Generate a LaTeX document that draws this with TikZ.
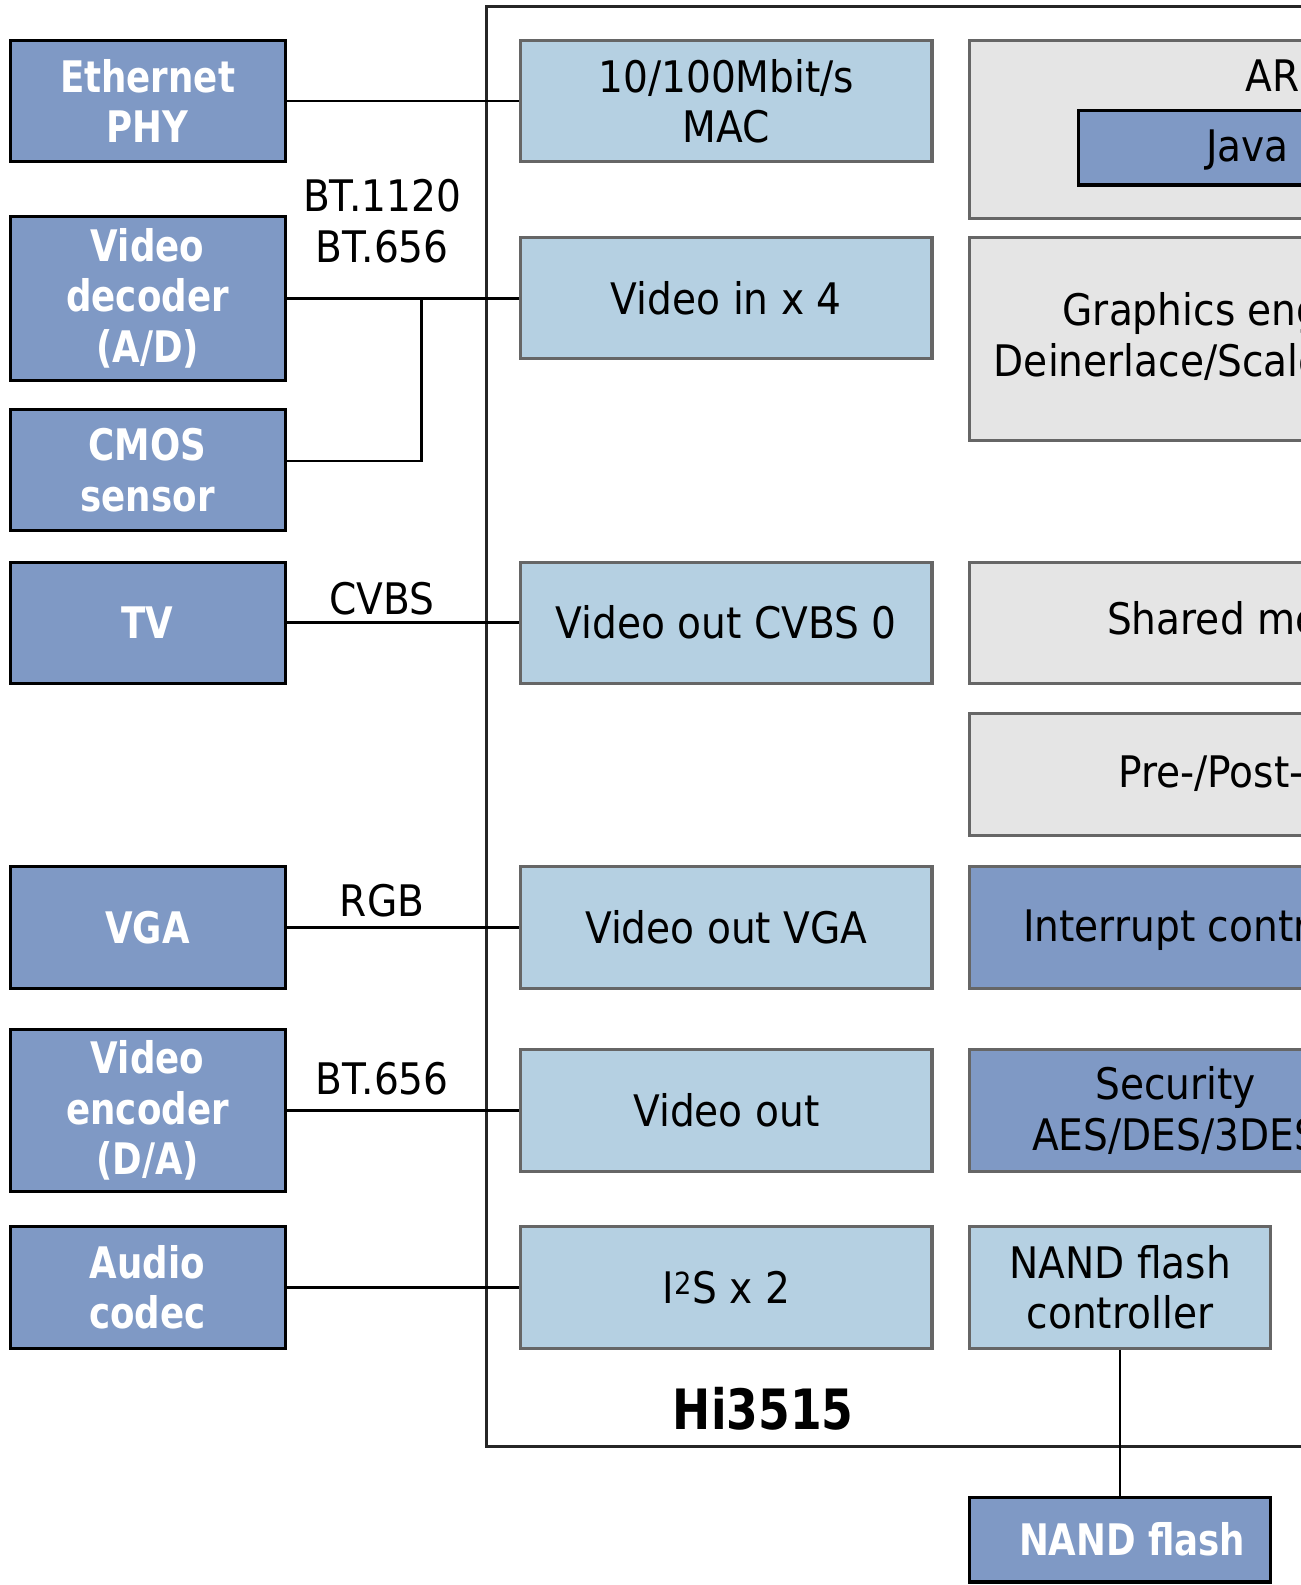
\documentclass[tikz,border=0pt]{standalone}
\usepackage{fontspec}
\newfontfamily\rgfont{DejaVu Sans}[FakeStretch=0.9]
\newfontfamily\bdfont{DejaVu Sans}[FakeStretch=0.82]
\definecolor{dkblue}{RGB}{127,153,197}
\definecolor{ltblue}{RGB}{181,208,226}
\definecolor{ltgray}{RGB}{229,229,229}
\definecolor{bordergray}{RGB}{102,102,102}
\begin{document}
\begin{tikzpicture}[x=1pt,y=-1pt,
  extbox/.style={draw=black, fill=dkblue, line width=3pt, text=white, inner sep=0pt,
    minimum width=272pt, align=center, font=\bdfont\bfseries\fontsize{43}{50}\selectfont},
  chipbox/.style={draw=bordergray, fill=ltblue, line width=3pt, inner sep=0pt,
    minimum width=407pt, align=center, font=\rgfont\fontsize{43}{50}\selectfont},
  graybox/.style={draw=bordergray, fill=ltgray, line width=3pt, inner sep=0pt},
  bluebox/.style={draw=bordergray, fill=dkblue, line width=3pt, inner sep=0pt},
  lbl/.style={inner sep=0pt, align=center, font=\rgfont\fontsize{43}{50}\selectfont},
  rtext/.style={inner sep=0pt, anchor=base west, font=\rgfont\fontsize{43}{50}\selectfont},
  wire/.style={draw=black, line width=2.8pt}]
\useasboundingbox (0,0) rectangle (1287,1568);
\begin{scope}
\clip (0,0) rectangle (1287,1568);
% chip outline
\draw[line width=3pt, draw=black!85] (481,6) rectangle (1700,1431);
% left external devices
\node[extbox, minimum height=120pt] (eth) at (146,100) {Ethernet\\PHY};
\node[extbox, minimum height=162pt] (dec) at (146,295) {Video\\decoder\\(A/D)};
\node[extbox, minimum height=120pt] (cmos) at (146,465) {CMOS\\sensor};
\node[extbox, minimum height=120pt] (tv) at (146,616) {TV};
\node[extbox, minimum height=121pt] (vga) at (146,917.5) {VGA};
\node[extbox, minimum height=161pt] (enc) at (146,1098.5) {Video\\encoder\\(D/A)};
\node[extbox, minimum height=121pt] (aud) at (146,1273.5) {Audio\\codec};
% middle column
\node[chipbox, minimum height=120pt] (mac) at (718.5,100) {10/100Mbit/s\\MAC};
\node[chipbox, minimum height=120pt] (vin) at (718.5,295) {Video in x 4};
\node[chipbox, minimum height=120pt] (cvbs) at (718.5,616) {Video out CVBS 0};
\node[chipbox, minimum height=121pt] (vvga) at (718.5,917.5) {Video out VGA};
\node[chipbox, minimum height=121pt] (vout) at (718.5,1098.5) {Video out};
\node[chipbox, minimum height=121pt] (i2s) at (718.5,1273.5) {I\textsuperscript{2}S x 2};
% right column
\draw[graybox] (959,40) rectangle (1700,216);
\node[rtext] (armt) at (1232,91) {ARM926EJ-S};
\draw[line width=3pt, draw=black, fill=dkblue] (1067,109) rectangle (1700,183);
\node[rtext] (javat) at (1193,160) {Java acceleration};
\draw[graybox] (959,235) rectangle (1700,436);
\node[rtext] (gfx1) at (1051,322) {Graphics engine};
\node[rtext] (gfx2) at (983,372) {Deinerlace/Scaler};
\draw[graybox] (959,556) rectangle (1700,676);
\node[rtext] (shm) at (1095,628) {Shared memory};
\draw[graybox] (959,706) rectangle (1700,827);
\node[rtext] (pp) at (1106,779) {Pre-/Post-processing};
\draw[bluebox] (959,857) rectangle (1700,978);
\node[rtext] (intc) at (1012,931) {Interrupt controller};
\node[bluebox, minimum width=408pt, minimum height=121pt, align=center,
  font=\rgfont\fontsize{43}{50}\selectfont] (sec) at (1163,1098.5) {Security\\AES/DES/3DES};
\node[chipbox, minimum width=298pt, minimum height=121pt] (nandc) at (1108,1273.5) {NAND flash\\controller};
\node[extbox, minimum width=298pt, minimum height=84pt] (nand) at (1108,1523) {\hspace*{24pt}NAND flash};
% chip name
\node[inner sep=0pt, font=\bdfont\bfseries\fontsize{55}{60}\selectfont] (chip) at (755,1394) {Hi3515};
% connectors
\draw[wire] (eth.east) -- (mac.west);
\draw[wire] (dec.east) -- (vin.west);
\coordinate (junc) at (417,295);
\draw[wire] ([yshift=9pt]cmos.east) -| (junc);
\draw[wire] (tv.east) -- (cvbs.west);
\draw[wire] (vga.east) -- (vvga.west);
\draw[wire] (enc.east) -- (vout.west);
\draw[wire] (aud.east) -- (i2s.west);
\draw[wire] (nandc.south) -- (nand.north);
% labels
\node[lbl] (lbt) at (378,219) {BT.1120\\BT.656};
\node[lbl] (lcvbs) at (378,592) {CVBS};
\node[lbl] (lrgb) at (378,891) {RGB};
\node[lbl] (lbt2) at (378,1067) {BT.656};
\end{scope}
\end{tikzpicture}
\end{document}
